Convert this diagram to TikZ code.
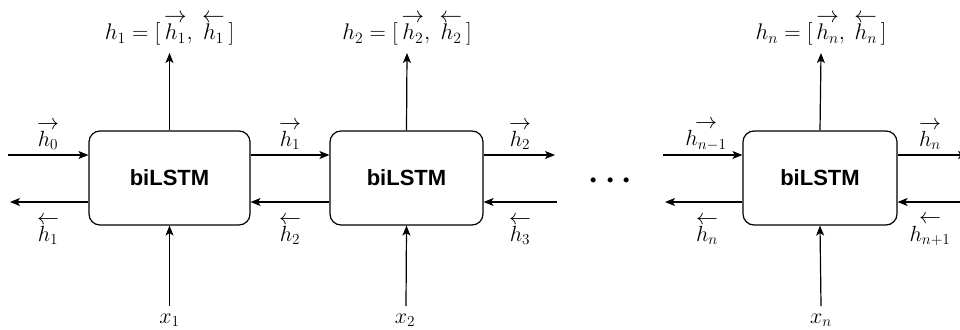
\documentclass[tikz,border=0pt]{standalone}
\usepackage{fontspec}
\setmainfont{Liberation Serif}
\setsansfont{Liberation Sans}
\usetikzlibrary{arrows.meta}
% direction arrows set above a hidden state
\newcommand\fwdstate[1]{\mathord{\mathop{#1}\limits^{\textstyle\rightarrow}}}
\newcommand\bwdstate[1]{\mathord{\mathop{#1}\limits^{\textstyle\leftarrow}}}

\begin{document}
\begin{tikzpicture}[x=1pt,y=1pt,
  cell/.style={draw, rounded corners=11pt, line width=1.2pt, minimum height=94pt,
    inner sep=0pt, font=\sffamily\bfseries\fontsize{22}{26}\selectfont},
  link/.style={line width=1.2pt, -{Stealth[length=10pt,width=8pt,inset=2.5pt]}},
  lab/.style={inner sep=0pt, scale=1.06, font=\fontsize{20.74}{25}\selectfont},
  outlab/.style={inner sep=0pt, anchor=base, scale=1.09, font=\fontsize{20.74}{25}\selectfont}]
\useasboundingbox (0,0) rectangle (960,-329);

% the three unrolled cells
\node[cell, minimum width=161pt] (b1) at (169.5,-178) {biLSTM};
\node[cell, minimum width=153pt] (b2) at (406.5,-178) {biLSTM};
\node[cell, minimum width=154pt] (bn) at (820,-178) {biLSTM};

% free ends of the open connectors
\coordinate (l1f) at (8,-155);
\coordinate (l1b) at (10,-202);
\coordinate (r2f) at (555,-155);
\coordinate (r2b) at (557,-202);
\coordinate (lnf) at (663,-155);
\coordinate (lnb) at (665,-202);
\coordinate (rnf) at (968,-155);
\coordinate (rnb) at (975,-202);
\coordinate (t1) at (169.5,-53);
\coordinate (t2) at (407,-53);
\coordinate (tn) at (821,-53);
\coordinate (i1) at (169.5,-306);
\coordinate (i2) at (406,-306);
\coordinate (in) at (821,-306);

% outputs
\node[outlab] (o1) at (169.5,-40) {$h_1 =[\,\fwdstate{h_1},\ \bwdstate{h_1}\,]$};
\node[outlab] (o2) at (407,-40) {$h_2 =[\,\fwdstate{h_2},\ \bwdstate{h_2}\,]$};
\node[outlab] (on) at (821,-40) {$h_n =[\,\fwdstate{h_n},\ \bwdstate{h_n}\,]$};
\draw[link] (b1.north) -- (t1);
\draw[link] (b2.north) -- (t2);
\draw[link] (bn.north) -- (tn);

% inputs
\node[lab] (x1) at (169.5,-320) {$x_1$};
\node[lab] (x2) at (405,-320) {$x_2$};
\node[lab] (xn) at (821,-320) {$x_n$};
\draw[link] (i1) -- (b1.south);
\draw[link] (i2) -- (b2.south);
\draw[link] (in) -- (bn.south);

% forward and backward state connectors
\draw[link] (l1f) -- ([yshift=23pt]b1.west);
\draw[link] ([yshift=-24pt]b1.west) -- (l1b);
\draw[link] ([yshift=23pt]b1.east) -- ([yshift=23pt]b2.west);
\draw[link] ([yshift=-24pt]b2.west) -- ([yshift=-24pt]b1.east);
\draw[link] ([yshift=23pt]b2.east) -- (r2f);
\draw[link] (r2b) -- ([yshift=-24pt]b2.east);
\draw[link] (lnf) -- ([yshift=23pt]bn.west);
\draw[link] ([yshift=-24pt]bn.west) -- (lnb);
\draw[link] ([yshift=23pt]bn.east) -- (rnf);
\draw[link] (rnb) -- ([yshift=-24pt]bn.east);

% state labels
\node[lab] (f0) at (48,-135) {$\fwdstate{h_0}$};
\node[lab] (g1) at (48,-230) {$\bwdstate{h_1}$};
\node[lab] (f1) at (290,-135) {$\fwdstate{h_1}$};
\node[lab] (g2) at (290,-230) {$\bwdstate{h_2}$};
\node[lab] (f2) at (520,-135) {$\fwdstate{h_2}$};
\node[lab] (g3) at (520,-230) {$\bwdstate{h_3}$};
\node[lab] (fm) at (706,-135) {$\fwdstate{h_{n-1}}$};
\node[lab] (gn) at (707,-230) {$\bwdstate{h_n}$};
\node[lab] (fn) at (930,-135) {$\fwdstate{h_n}$};
\node[lab] (gp) at (930,-230) {$\bwdstate{h_{n+1}}$};

% ellipsis between the cells
\node[inner sep=0pt, scale=1.3, font=\fontsize{24.88}{30}\selectfont\boldmath] (dots) at (610.5,-181) {$\cdots$};
\end{tikzpicture}
\end{document}
